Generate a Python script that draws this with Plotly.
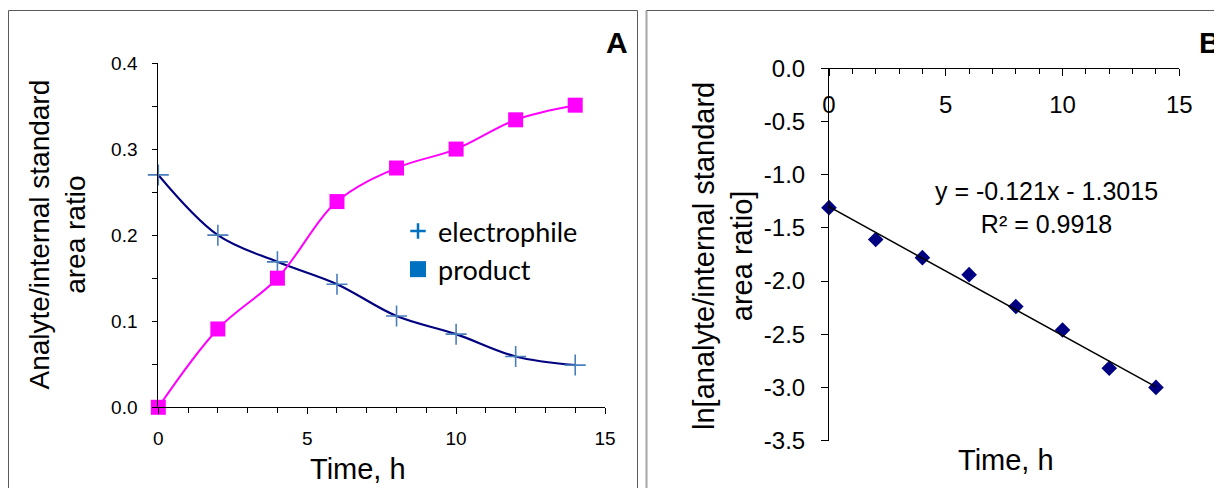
import plotly.graph_objects as go

# ---------------- data ----------------
time_h = [0, 2, 4, 6, 8, 10, 12, 14]
electrophile = [0.270, 0.200, 0.169, 0.143, 0.106, 0.085, 0.059, 0.049]
product = [0.000, 0.091, 0.150, 0.239, 0.278, 0.300, 0.334, 0.351]
ln_ratio = [-1.31, -1.61, -1.78, -1.94, -2.24, -2.46, -2.82, -3.00]
fit_slope = -0.121
fit_intercept = -1.3015
fit_r2 = 0.9918
series_names = ["electrophile", "product"]
panel_labels = ["A", "B"]
yB_tickvals = [0.0, -0.5, -1.0, -1.5, -2.0, -2.5, -3.0, -3.5]
yB_ticktext = ["0.0", "-0.5", "-1.0", "-1.5", "-2.0", "-2.5", "-3.0", "-3.5"]

W, H = 1214, 488
def px(x):
    return x / W
def py(y):
    return 1 - y / H

AX = "Liberation Sans, Arial, sans-serif"

fig = go.Figure()

# Panel A
fig.add_trace(go.Scatter(
    x=time_h, y=electrophile, mode="lines+markers", xaxis="x", yaxis="y",
    line=dict(color="#000080", width=2.2, shape="spline", smoothing=1),
    marker=dict(symbol="cross-thin", size=15, color="#4a7ebb",
                line=dict(color="#4a7ebb", width=1.6)),
    cliponaxis=False, showlegend=False))
fig.add_trace(go.Scatter(
    x=time_h, y=product, mode="lines+markers", xaxis="x", yaxis="y",
    line=dict(color="#ff00ff", width=2, shape="spline", smoothing=1),
    marker=dict(symbol="square", size=15, color="#ff00ff"),
    cliponaxis=False, showlegend=False))

# legend entries
fig.add_trace(go.Scatter(
    x=[None], y=[None], mode="markers", name=series_names[0], xaxis="x", yaxis="y",
    marker=dict(symbol="cross-thin", size=11, color="#0070c0",
                line=dict(color="#0070c0", width=2.5))))
fig.add_trace(go.Scatter(
    x=[None], y=[None], mode="markers", name=series_names[1], xaxis="x", yaxis="y",
    marker=dict(symbol="square", size=16, color="#0070c0")))

# Panel B
fig.add_trace(go.Scatter(
    x=time_h, y=ln_ratio, mode="markers", xaxis="x2", yaxis="y2",
    marker=dict(symbol="diamond", size=12, color="#000080"),
    cliponaxis=False, showlegend=False))
fit_x = [min(time_h), max(time_h)]
fit_y = [fit_slope * v + fit_intercept for v in fit_x]
fig.add_trace(go.Scatter(
    x=fit_x, y=fit_y, mode="lines", xaxis="x2", yaxis="y2",
    line=dict(color="black", width=1.5), cliponaxis=False, showlegend=False))

tickfontA = dict(family=AX, size=19, color="black")
tickfontB = dict(family=AX, size=24, color="black")

fig.update_layout(
    autosize=True, margin=dict(l=0, r=0, t=0, b=0, autoexpand=False),
    paper_bgcolor="white", plot_bgcolor="white",
    xaxis=dict(domain=[px(158.3), px(605)], range=[0, 15], anchor="y",
               dtick=5, tick0=0, ticks="outside", ticklen=6, tickcolor="black",
               minor=dict(dtick=1, ticks="outside", ticklen=5, tickcolor="black"),
               showline=True, linecolor="black", linewidth=1,
               showgrid=False, zeroline=False, tickfont=tickfontA,
               ticklabelstandoff=8),
    yaxis=dict(domain=[py(407.3), py(63)], range=[0, 0.4], anchor="x",
               dtick=0.1, tick0=0, tickformat=".1f", ticks="outside", ticklen=5,
               tickcolor="black",
               minor=dict(dtick=0.05, ticks="outside", ticklen=5, tickcolor="black"),
               showline=True, linecolor="black", linewidth=1,
               showgrid=False, zeroline=False, tickfont=tickfontA,
               ticklabelstandoff=11),
    xaxis2=dict(domain=[px(829), px(1179.3)], range=[0, 15], anchor="free",
                position=py(68.3), side="bottom",
                dtick=5, tick0=0, ticks="outside", ticklen=7, tickcolor="black",
                minor=dict(dtick=1, ticks="outside", ticklen=5, tickcolor="black"),
                showline=True, linecolor="black", linewidth=1,
                showgrid=False, zeroline=False, tickfont=tickfontB,
                ticklabelstandoff=8),
    yaxis2=dict(domain=[py(440.6), py(68.3)], range=[-3.5, 0], anchor="x2",
                tickmode="array", tickvals=yB_tickvals, ticktext=yB_ticktext,
                ticks="outside", ticklen=7, tickcolor="black",
                showline=True, linecolor="black", linewidth=1,
                showgrid=False, zeroline=False, tickfont=tickfontB,
                ticklabelstandoff=11),
    legend=dict(x=px(398), y=py(207), xanchor="left", yanchor="top",
                bgcolor="rgba(0,0,0,0)", borderwidth=0,
                font=dict(family="Lato, Open Sans, sans-serif", size=27, color="black"),
                itemsizing="trace"),
)

ann = []
def add_text(text, x, y, size, angle=0, bold=False, xanchor="center", family=AX):
    ann.append(dict(text=("<b>%s</b>" % text) if bold else text,
                    x=px(x), y=py(y), xref="paper", yref="paper",
                    xanchor=xanchor, yanchor="middle", showarrow=False,
                    textangle=angle, font=dict(family=family, size=size, color="black")))

add_text("Analyte/internal standard<br>area ratio", 57, 234.5, 28, angle=-90)
add_text("Time, h", 357.5, 469, 29)
add_text("ln[analyte/internal standard<br>area ratio]", 723, 256, 29, angle=-90)
add_text("Time, h", 1006, 460, 29)
add_text("y = %.3fx - %.4f<br>R² = %.4f" % (fit_slope, abs(fit_intercept), fit_r2),
         1046, 207, 25)
add_text(panel_labels[0], 617, 42, 30, bold=True)
add_text(panel_labels[1], 1197, 42, 30, bold=True, xanchor="left")
fig.update_layout(annotations=ann)

shapes = [
    # panel A frame
    dict(type="line", x0=px(8.5), x1=px(8.5), y0=py(10.5), y1=py(500), line=dict(color="#5a5a5a", width=1)),
    dict(type="line", x0=px(8.5), x1=px(637.5), y0=py(10.5), y1=py(10.5), line=dict(color="#5a5a5a", width=1)),
    dict(type="line", x0=px(637.5), x1=px(637.5), y0=py(10.5), y1=py(500), line=dict(color="#5a5a5a", width=1)),
    # panel B frame
    dict(type="line", x0=px(646.5), x1=px(646.5), y0=py(10.5), y1=py(500), line=dict(color="#a6a6a6", width=2)),
    dict(type="line", x0=px(646.5), x1=px(1230), y0=py(10.5), y1=py(10.5), line=dict(color="#5a5a5a", width=1)),
]
for s in shapes:
    s.update(xref="paper", yref="paper", layer="above")
fig.update_layout(shapes=shapes)

fig.write_html("out.html",
               config={"displayModeBar": False, "responsive": True},
               default_width="100vw", default_height="100vh",
               post_script="document.body.style.margin='0';document.body.style.overflow='hidden';"
                           "var gd=document.getElementById('{plot_id}');"
                           "Plotly.relayout(gd,{width:window.innerWidth,height:window.innerHeight});")
